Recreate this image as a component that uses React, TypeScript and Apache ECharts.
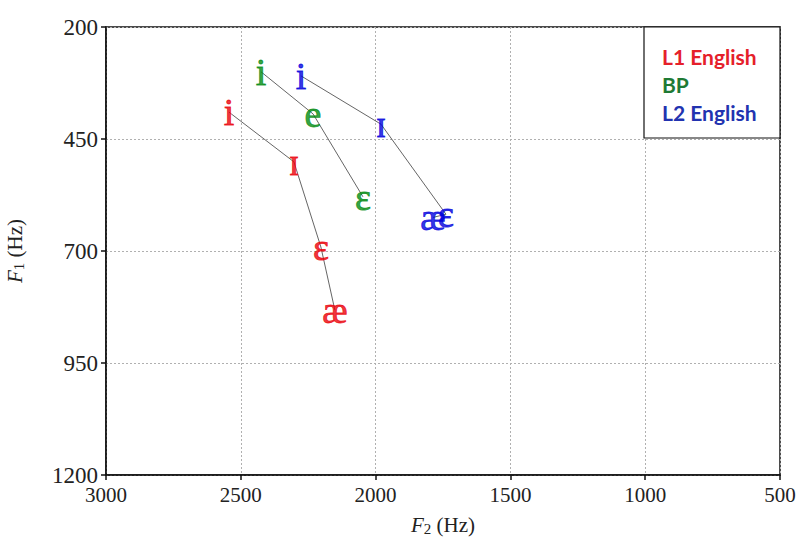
import React, { useEffect, useRef } from "react";
import * as echarts from "echarts";

const groups = ["L1 English", "BP", "L2 English"];
const groupColors = ["#ea0008", "#008a10", "#0000dd"];
const legendColors = ["#e5202a", "#1e7a34", "#2233b0"];

const l1Vowels = ["i", "ɪ", "ɛ", "æ"];
const l1F2 = [2544, 2303, 2203, 2151];
const l1F1 = [390, 501, 691, 832];

const bpVowels = ["i", "e", "ɛ"];
const bpF2 = [2425, 2232, 2047];
const bpF1 = [300, 394, 579];

const l2Vowels = ["i", "ɪ", "ɛ", "æ"];
const l2F2 = [2277, 1980, 1739, 1787];
const l2F1 = [309, 417, 618, 625];

const xTicks = [3000, 2500, 2000, 1500, 1000, 500];
const yTicks = [200, 450, 700, 950, 1200];

export default function App() {
  const ref = useRef<HTMLDivElement>(null);
  useEffect(() => {
    if (!ref.current) return;
    const chart = echarts.init(ref.current, undefined, { renderer: "svg" });
    const sets = [
      { v: l1Vowels, x: l1F2, y: l1F1 },
      { v: bpVowels, x: bpF2, y: bpF1 },
      { v: l2Vowels, x: l2F2, y: l2F1 },
    ];
    const series: any[] = [];
    sets.forEach((s, gi) => {
      series.push({
        type: "line",
        name: groups[gi] + " line",
        data: s.x.map((x, i) => [x, s.y[i]]),
        symbol: "none",
        lineStyle: { color: "#222", width: 0.7 },
        z: 2,
        silent: true,
      });
      series.push({
        type: "scatter",
        name: groups[gi],
        data: s.x.map((x, i) => ({ value: [x, s.y[i]], name: s.v[i] })),
        symbolSize: 1,
        itemStyle: { color: "rgba(0,0,0,0)" },
        z: 3,
        label: {
          show: true,
          position: "inside",
          formatter: (p: any) => p.name,
          color: groupColors[gi],
          fontFamily: "Liberation Serif",
          fontSize: 38,
          textBorderColor: groupColors[gi],
          textBorderWidth: 0.8,
        },
        labelLayout: { hideOverlap: false },
      });
    });
    const serif = "Liberation Serif";
    const nameRich = {
      i: { fontFamily: serif, fontStyle: "italic", fontSize: 21, color: "#222" },
      s: { fontFamily: serif, fontSize: 15, color: "#222", verticalAlign: "bottom", padding: [8, 0, 0, 0] },
      n: { fontFamily: serif, fontSize: 21, color: "#222" },
    };
    chart.setOption({
      animation: false,
      backgroundColor: "#fff",
      grid: {
        left: 106,
        right: 21,
        top: 27,
        bottom: 63,
        show: true,
        borderColor: "#111",
        borderWidth: 1.5,
        backgroundColor: "transparent",
        outerBoundsMode: "none",
        containLabel: false,
      },
      xAxis: {
        type: "value",
        inverse: true,
        min: xTicks[xTicks.length - 1],
        max: xTicks[0],
        interval: 500,
        axisLine: { show: true, lineStyle: { color: "#111", width: 1.5 } },
        axisTick: { show: true, length: 5, lineStyle: { color: "#111", width: 1.5 } },
        axisLabel: { color: "#222", fontFamily: serif, fontSize: 21, margin: 9, formatter: (v: number) => String(v) },
        splitLine: { show: true, lineStyle: { color: "#b0b0b0", type: [2, 2], width: 1 } },
        name: "{i|F}{s|2}{n| (Hz)}",
        nameLocation: "middle",
        nameGap: 38,
        nameTextStyle: { rich: nameRich },
      },
      yAxis: {
        type: "value",
        inverse: true,
        min: yTicks[0],
        max: yTicks[yTicks.length - 1],
        interval: 250,
        axisLine: { show: true, lineStyle: { color: "#111", width: 1.5 } },
        axisTick: { show: true, length: 5, lineStyle: { color: "#111", width: 1.5 } },
        axisLabel: { color: "#222", fontFamily: serif, fontSize: 23, margin: 8, formatter: (v: number) => String(v) },
        splitLine: { show: true, lineStyle: { color: "#b0b0b0", type: [2, 2], width: 1 } },
        name: "{i|F}{s|1}{n| (Hz)}",
        nameLocation: "middle",
        nameGap: 80,
        nameRotate: 90,
        nameTextStyle: { rich: nameRich },
      },
      graphic: [
        {
          type: "rect",
          shape: { x: 644, y: 27, width: 136, height: 111 },
          style: { fill: "#fff", stroke: "#111", lineWidth: 1.2 },
          z: 10,
        },
        ...groups.map((g, i) => ({
          type: "text",
          x: 662,
          y: 56 + i * 28,
          z: 11,
          style: {
            text: g,
            fill: legendColors[i],
            font: "bold 21px Lato",
            textVerticalAlign: "middle",
          },
        })),
      ],
      series,
    });
    return () => chart.dispose();
  }, []);
  return <div ref={ref} style={{ width: 801, height: 538, position: "absolute", left: 0, top: 0 }} />;
}
